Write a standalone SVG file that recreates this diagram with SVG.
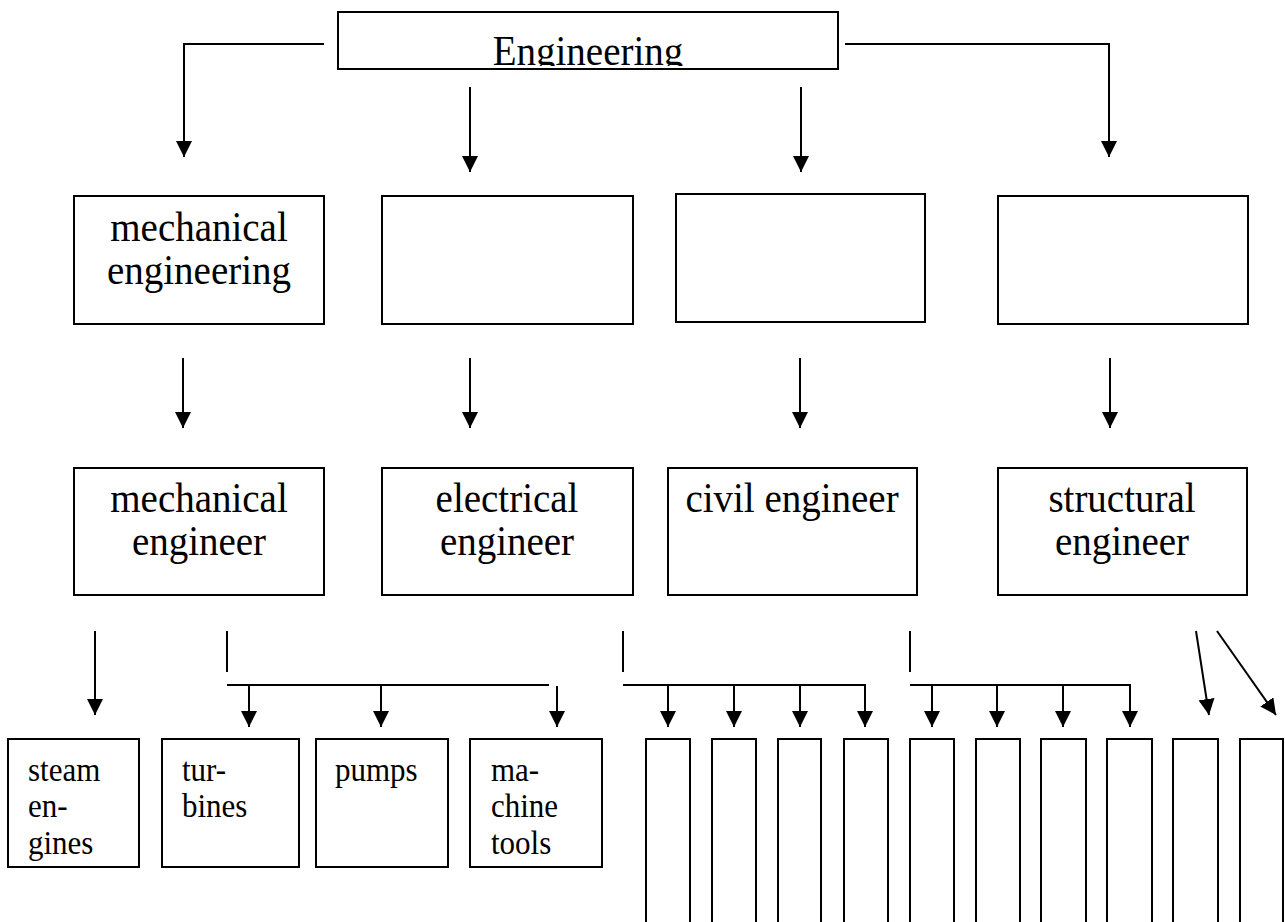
<svg xmlns="http://www.w3.org/2000/svg" width="1285" height="922" viewBox="0 0 1285 922">
  <style>
    .box { fill: #fff; stroke: #000; stroke-width: 2; }
    .ln { fill: none; stroke: #000; stroke-width: 2; }
    .big { font-family: "Liberation Serif", "Times New Roman", serif; font-size: 39px; fill: #000; text-anchor: middle; }
    .small { font-family: "Liberation Serif", "Times New Roman", serif; font-size: 31px; fill: #000; }
  </style>
  <defs>
    <marker id="arr" viewBox="0 0 10 10" refX="10" refY="5" markerWidth="16" markerHeight="16" markerUnits="userSpaceOnUse" orient="auto">
      <path d="M0,0 L10,5 L0,10 z" fill="#000"/>
    </marker>
    <clipPath id="clipTop"><rect x="338" y="12" width="500" height="54"/></clipPath>
  </defs>

  <rect width="1285" height="922" fill="#fff"/>

  <!-- connectors -->
  <g id="connectors">
    <path class="ln" d="M324,44 H184 V157" marker-end="url(#arr)"/>
    <path class="ln" d="M845,44 H1109 V157" marker-end="url(#arr)"/>
    <path class="ln" d="M470,87 V172" marker-end="url(#arr)"/>
    <path class="ln" d="M801,87 V172" marker-end="url(#arr)"/>

    <path class="ln" d="M183,358 V428" marker-end="url(#arr)"/>
    <path class="ln" d="M470,358 V428" marker-end="url(#arr)"/>
    <path class="ln" d="M800,358 V428" marker-end="url(#arr)"/>
    <path class="ln" d="M1110,358 V428" marker-end="url(#arr)"/>

    <path class="ln" d="M95,631 V715" marker-end="url(#arr)"/>

    <path class="ln" d="M227,631 V672"/>
    <path class="ln" d="M227,685 H549"/>
    <path class="ln" d="M249,685 V727" marker-end="url(#arr)"/>
    <path class="ln" d="M381,685 V727" marker-end="url(#arr)"/>
    <path class="ln" d="M557,686 V727" marker-end="url(#arr)"/>

    <path class="ln" d="M623,631 V672"/>
    <path class="ln" d="M623,685 H865 V727" marker-end="url(#arr)"/>
    <path class="ln" d="M668,685 V727" marker-end="url(#arr)"/>
    <path class="ln" d="M734,685 V727" marker-end="url(#arr)"/>
    <path class="ln" d="M800,685 V727" marker-end="url(#arr)"/>

    <path class="ln" d="M910,631 V672"/>
    <path class="ln" d="M910,685 H1130 V727" marker-end="url(#arr)"/>
    <path class="ln" d="M932,685 V727" marker-end="url(#arr)"/>
    <path class="ln" d="M997,685 V727" marker-end="url(#arr)"/>
    <path class="ln" d="M1063,685 V727" marker-end="url(#arr)"/>

    <path class="ln" d="M1196,631 L1209,715" marker-end="url(#arr)"/>
    <path class="ln" d="M1217,631 L1276,715" marker-end="url(#arr)"/>
  </g>

  <!-- root -->
  <g id="engineering">
    <rect class="box" x="338" y="12" width="500" height="57"/>
    <g clip-path="url(#clipTop)">
      <text class="big" transform="translate(588,65) scale(1,1.06)">Engineering</text>
    </g>
  </g>

  <!-- branches -->
  <g id="mech-eng">
    <rect class="box" x="74" y="196" width="250" height="128"/>
    <text class="big" transform="translate(199,241) scale(1,1.06)">mechanical</text>
    <text class="big" transform="translate(199,284) scale(1,1.06)">engineering</text>
  </g>
  <g id="branch-2"><rect class="box" x="382" y="196" width="251" height="128"/></g>
  <g id="branch-3"><rect class="box" x="676" y="194" width="249" height="128"/></g>
  <g id="branch-4"><rect class="box" x="998" y="196" width="250" height="128"/></g>

  <!-- professions -->
  <g id="mech-engineer">
    <rect class="box" x="74" y="468" width="250" height="127"/>
    <text class="big" transform="translate(199,512) scale(1,1.06)">mechanical</text>
    <text class="big" transform="translate(199,555) scale(1,1.06)">engineer</text>
  </g>
  <g id="elec-engineer">
    <rect class="box" x="382" y="468" width="251" height="127"/>
    <text class="big" transform="translate(507,512) scale(1,1.06)">electrical</text>
    <text class="big" transform="translate(507,555) scale(1,1.06)">engineer</text>
  </g>
  <g id="civil-engineer">
    <rect class="box" x="668" y="468" width="249" height="127"/>
    <text class="big" transform="translate(792,512) scale(1,1.06)">civil engineer</text>
  </g>
  <g id="struct-engineer">
    <rect class="box" x="998" y="468" width="249" height="127"/>
    <text class="big" transform="translate(1122,512) scale(1,1.06)">structural</text>
    <text class="big" transform="translate(1122,555) scale(1,1.06)">engineer</text>
  </g>

  <!-- products -->
  <g id="steam-engines">
    <rect class="box" x="8" y="739" width="131" height="128"/>
    <text class="small" transform="translate(28,781) scale(1,1.08)">steam</text>
    <text class="small" transform="translate(28,817) scale(1,1.08)">en-</text>
    <text class="small" transform="translate(28,854) scale(1,1.08)">gines</text>
  </g>
  <g id="turbines">
    <rect class="box" x="162" y="739" width="137" height="128"/>
    <text class="small" transform="translate(182,781) scale(1,1.08)">tur-</text>
    <text class="small" transform="translate(182,817) scale(1,1.08)">bines</text>
  </g>
  <g id="pumps">
    <rect class="box" x="316" y="739" width="132" height="128"/>
    <text class="small" transform="translate(335,781) scale(1,1.08)">pumps</text>
  </g>
  <g id="machine-tools">
    <rect class="box" x="470" y="739" width="132" height="128"/>
    <text class="small" transform="translate(491,781) scale(1,1.08)">ma-</text>
    <text class="small" transform="translate(491,817) scale(1,1.08)">chine</text>
    <text class="small" transform="translate(491,854) scale(1,1.08)">tools</text>
  </g>

  <!-- empty slots -->
  <g id="slot-1"><rect class="box" x="646" y="739" width="44" height="200"/></g>
  <g id="slot-2"><rect class="box" x="712" y="739" width="44" height="200"/></g>
  <g id="slot-3"><rect class="box" x="778" y="739" width="43" height="200"/></g>
  <g id="slot-4"><rect class="box" x="844" y="739" width="44" height="200"/></g>
  <g id="slot-5"><rect class="box" x="910" y="739" width="44" height="200"/></g>
  <g id="slot-6"><rect class="box" x="976" y="739" width="44" height="200"/></g>
  <g id="slot-7"><rect class="box" x="1041" y="739" width="45" height="200"/></g>
  <g id="slot-8"><rect class="box" x="1107" y="739" width="45" height="200"/></g>
  <g id="slot-9"><rect class="box" x="1173" y="739" width="45" height="200"/></g>
  <g id="slot-10"><rect class="box" x="1240" y="739" width="43" height="200"/></g>
</svg>
